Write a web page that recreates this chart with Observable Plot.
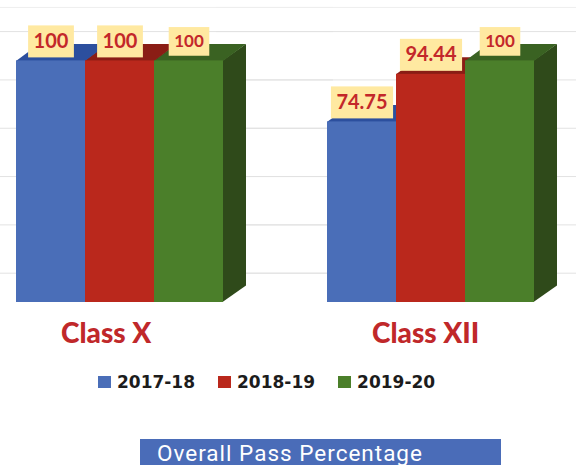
<!DOCTYPE html>
<html>
<head>
<meta charset="utf-8">
<script src="https://cdn.jsdelivr.net/npm/d3@7"></script>
<script src="https://cdn.jsdelivr.net/npm/@observablehq/plot@0.6"></script>
<style>
  body { margin: 0; background: #fff; }
  #wrap { position: relative; width: 576px; height: 465px; overflow: hidden; background: #fff; }
  #chart { position: absolute; left: 0; top: 0; }
  #legend { position: absolute; left: 98px; top: 372px; height: 20px; display: flex; align-items: center;
            font: bold 17px "DejaVu Sans"; color: #1c1c1c; white-space: nowrap; }
  #legend .item { display: flex; align-items: center; margin-right: 23px; }
  #legend .sw { width: 13px; height: 12px; margin-right: 6px; display: inline-block; }
  #title { position: absolute; left: 140px; top: 439px; width: 344px; height: 28px; padding: 1px 0 0 17px;
           background: #4A6CB8; color: #fff; font: 22.5px Roboto; line-height: 26px; letter-spacing: 1px; white-space: nowrap; }
</style>
</head>
<body>
<div id="wrap">
  <div id="chart"></div>
  <div id="legend"></div>
  <div id="title"></div>
</div>
<script>
// ---- data ----
const classes = ["Class X", "Class XII"];
const years = ["2017-18", "2018-19", "2019-20"];
const classX = [100, 100, 100];
const classXII = [74.75, 94.44, 100];
const gridTicks = [0, 20, 40, 60, 80, 100];
const wallTop = [110];
const titleText = "Overall Pass Percentage";

// ---- styles ----
const frontColors = ["#4A6EB8", "#BA281C", "#4B7F2A"];
const topColors = ["#2C4F9E", "#8A1D15", "#3A6222"];
const sideColors = ["#2B4A8C", "#7A1A12", "#2F4A1A"];
const DX = 23, DY = 16.5;
const labelFill = "#C3272A";
const boxFill = "#FFE9A1";

const seriesByClass = [classX, classXII];
const data = classes.flatMap((c, ci) => seriesByClass[ci].map((v, i) => ({cls: c, year: years[i], value: v})));
const labelSize = d => d.year === "2019-20" ? 17 : 20;
const labelText = d => String(d.value);

const ns = "http://www.w3.org/2000/svg";

function bars3d(index, scales, values, dimensions, context, next) {
  const g = next(index, scales, values, dimensions, context);
  const rects = Array.from(g.querySelectorAll("rect"))
    .sort((a, b) => +a.getAttribute("x") - +b.getAttribute("x"));
  for (const r of rects) {
    const i = r.__data__;
    const k = years.indexOf(data[i].year);
    const x = +r.getAttribute("x"), y = +r.getAttribute("y");
    const w = +r.getAttribute("width"), h = +r.getAttribute("height");
    const side = document.createElementNS(ns, "path");
    side.setAttribute("d", `M${x + w - 0.5},${y}L${x + w + DX},${y - DY}V${y + h - DY}L${x + w - 0.5},${y + h}Z`);
    side.setAttribute("fill", sideColors[k]);
    const top = document.createElementNS(ns, "path");
    top.setAttribute("d", `M${x},${y + 0.5}L${x + DX},${y - DY}H${x + w + DX}L${x + w},${y + 0.5}Z`);
    top.setAttribute("fill", topColors[k]);
    g.append(side, top, r);
  }
  return g;
}

function labelBoxes(index, scales, values, dimensions, context, next) {
  const g = next(index, scales, values, dimensions, context);
  const ctx = document.createElement("canvas").getContext("2d");
  for (const t of Array.from(g.querySelectorAll("text"))) {
    const i = t.__data__;
    const d = data[i];
    const fs = labelSize(d);
    ctx.font = `bold ${fs}px Lato`;
    const tw = ctx.measureText(labelText(d)).width;
    const bw = tw + 11, bh = fs * 1.1 + 10;
    let cx = values.x ? values.x[i] : 0, cy = values.y ? values.y[i] : 0;
    const m = /translate\(([-\d.e]+),\s*([-\d.e]+)\)/.exec(t.getAttribute("transform") || "");
    if (m) { cx = +m[1]; cy = +m[2]; }
    const rect = document.createElementNS(ns, "rect");
    rect.setAttribute("x", cx - bw / 2);
    rect.setAttribute("y", cy - bh / 2);
    rect.setAttribute("width", bw);
    rect.setAttribute("height", bh);
    rect.setAttribute("fill", boxFill);
    rect.setAttribute("stroke", "none");
    g.insertBefore(rect, t);
  }
  return g;
}

const plot = Plot.plot({
  width: 576,
  height: 355,
  marginLeft: 14,
  marginRight: 42,
  marginTop: 0,
  marginBottom: 53,
  style: {fontFamily: "Lato", background: "transparent", overflow: "visible"},
  fx: {domain: classes, paddingInner: 0.332, paddingOuter: 0, label: null},
  x: {domain: years, padding: 0, axis: null},
  y: {domain: [0, 100], range: [302, 60.4], axis: null},
  color: {domain: years, range: frontColors},
  marks: [
    Plot.ruleY(wallTop, {y: d => d, dy: -29.3, stroke: "#eeeeee", insetLeft: -110, insetRight: -110}),
    Plot.ruleY(gridTicks, {y: d => d, dy: -29.3, stroke: "#e2e2e2", insetLeft: -110, insetRight: -110}),
    Plot.barY(data, {fx: "cls", x: "year", y: "value", fill: "year", render: bars3d}),
    Plot.text(data, {fx: "cls", x: "year", y: "value", text: labelText, fontSize: labelSize,
      fontWeight: "bold", fontFamily: "Lato", fill: labelFill, dy: -19.5, lineAnchor: "middle", render: labelBoxes}),
    Plot.axisFx({anchor: "bottom", tickSize: 0, tickPadding: 21, fontSize: 28, fontWeight: 900,
      fontFamily: "Lato", fill: "#C0282A", textAnchor: "start", dx: -58.5, label: null})
  ]
});
document.getElementById("chart").append(plot);

// legend
const legend = d3.select("#legend");
years.forEach((y, k) => {
  const item = legend.append("div").attr("class", "item");
  item.append("span").attr("class", "sw").style("background", frontColors[k]);
  item.append("span").text(y);
});
document.getElementById("title").textContent = titleText;
</script>
</body>
</html>
